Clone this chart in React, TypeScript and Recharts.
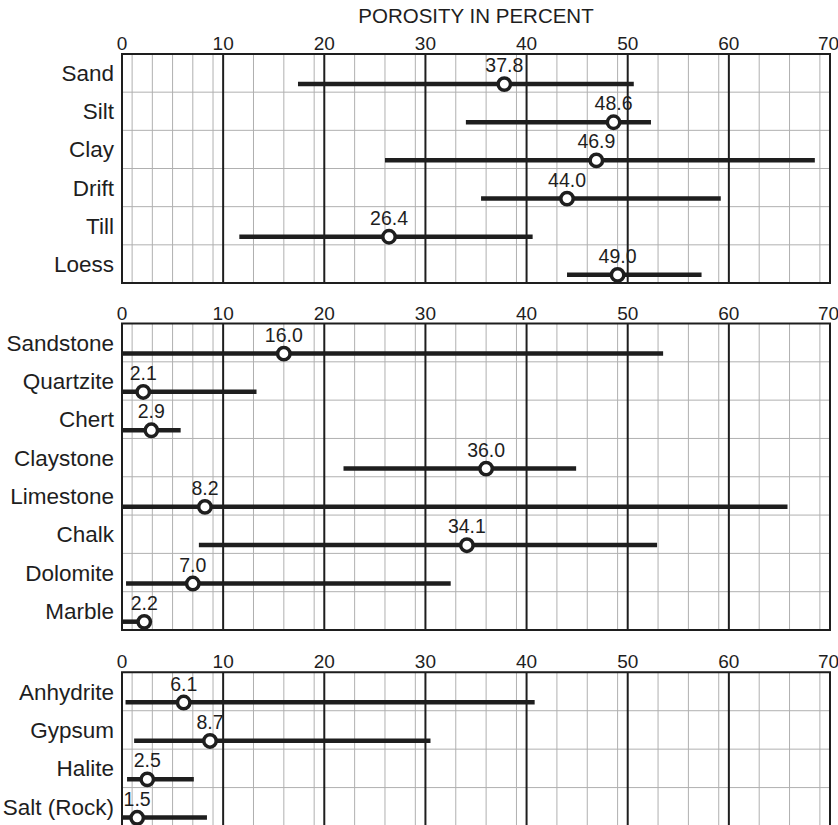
import { ComposedChart, Bar, Line, XAxis, YAxis, CartesianGrid, ReferenceArea } from 'recharts';

const xTicks = [0, 10, 20, 30, 40, 50, 60, 70];

const soilNames = ['Sand', 'Silt', 'Clay', 'Drift', 'Till', 'Loess'];
const soilMin = [17.4, 34.0, 26.0, 35.5, 11.6, 44.0];
const soilMax = [50.6, 52.3, 68.5, 59.2, 40.6, 57.3];
const soilMean = [37.8, 48.6, 46.9, 44.0, 26.4, 49.0];

const rockNames = ['Sandstone', 'Quartzite', 'Chert', 'Claystone', 'Limestone', 'Chalk', 'Dolomite', 'Marble'];
const rockMin = [0, 0, 0, 21.9, 0, 7.6, 0.4, 0];
const rockMax = [53.5, 13.3, 5.8, 44.9, 65.8, 52.9, 32.5, 2.6];
const rockMean = [16.0, 2.1, 2.9, 36.0, 8.2, 34.1, 7.0, 2.2];

const evapNames = ['Anhydrite', 'Gypsum', 'Halite', 'Salt (Rock)'];
const evapMin = [0.35, 1.2, 0.5, 0];
const evapMax = [40.8, 30.5, 7.1, 8.4];
const evapMean = [6.1, 8.7, 2.5, 1.5];

const FONT = '"Liberation Sans", Arial, sans-serif';
const INK = '#1e1e1e';
const DROP = 11; // bars sit a little below the row label

// 1-unit minor grid and the heavy 10-unit lines
const minorTicks = Array.from({ length: 69 }, (_, i) => i + 1).filter((v) => v % 10 !== 0);
const majorTicks = [10, 20, 30, 40, 50, 60];

function RangeLine(props: any) {
  const { x, y, width, height } = props;
  const cy = y + height / 2 + DROP;
  return <line x1={x} x2={x + width} y1={cy} y2={cy} stroke={INK} strokeWidth={4.5} />;
}

function MeanDot(props: any) {
  const { cx, cy, payload, index } = props;
  if (cx == null || cy == null) return null;
  const y = cy + DROP;
  return (
    <g key={`dot-${index}`}>
      <circle cx={cx} cy={y} r={6.2} fill="#fff" stroke={INK} strokeWidth={3.5} />
      <text x={cx} y={y - 12} textAnchor="middle" fontSize={19.5} fontFamily={FONT} fill={INK}>
        {payload.mean.toFixed(1)}
      </text>
    </g>
  );
}

function Panel({ names, mins, maxs, means, top, height, marginTop, marginBottom }: any) {
  const data = names.map((name: string, i: number) => ({
    name,
    range: [mins[i], maxs[i]],
    mean: means[i],
  }));
  const n = names.length;
  return (
    <div style={{ position: 'absolute', left: 0, top, width: 838, height }}>
      <ComposedChart
        width={838}
        height={height}
        data={data}
        layout="vertical"
        margin={{ top: marginTop, right: 8, bottom: marginBottom, left: 0 }}
        barCategoryGap={0}
      >
        <CartesianGrid
          vertical={false}
          stroke="#b0b0b0"
          horizontalCoordinatesGenerator={({ offset }: any) =>
            Array.from({ length: n + 1 }, (_, k) => offset.top + (k * offset.height) / n)
          }
        />
        <CartesianGrid horizontal={false} verticalValues={minorTicks} stroke="#b0b0b0" strokeWidth={1} />
        <CartesianGrid horizontal={false} verticalValues={majorTicks} stroke={INK} strokeWidth={2} />
        <XAxis
          type="number"
          orientation="top"
          domain={[0, 70]}
          ticks={xTicks}
          allowDataOverflow
          height={30}
          axisLine={false}
          tickLine={false}
          tickSize={0}
          tickMargin={4}
          tick={{ fontSize: 19, fill: INK, fontFamily: FONT }}
        />
        <YAxis
          type="category"
          dataKey="name"
          width={122}
          axisLine={false}
          tickLine={false}
          tickSize={0}
          tickMargin={8}
          interval={0}
          tick={{ fontSize: 22.5, fill: INK, fontFamily: FONT }}
        />
        <Bar dataKey="range" shape={RangeLine} isAnimationActive={false} />
        <Line dataKey="mean" stroke="none" dot={MeanDot} activeDot={false} isAnimationActive={false} />
        <ReferenceArea x1={0} x2={70} fill="none" stroke={INK} strokeWidth={2} />
      </ComposedChart>
    </div>
  );
}

export default function App() {
  return (
    <div
      style={{
        position: 'absolute',
        left: 0,
        top: 0,
        width: 838,
        height: 825,
        overflow: 'hidden',
        background: '#fff',
        fontFamily: FONT,
      }}
    >
      <div
        style={{
          position: 'absolute',
          left: 122,
          top: 4,
          width: 708,
          textAlign: 'center',
          fontSize: 20.5,
          lineHeight: '24px',
          color: INK,
        }}
      >
        POROSITY IN PERCENT
      </div>
      <Panel names={soilNames} mins={soilMin} maxs={soilMax} means={soilMean} top={0} height={290} marginTop={24} marginBottom={7} />
      <Panel names={rockNames} mins={rockMin} maxs={rockMax} means={rockMean} top={290} height={345} marginTop={3.5} marginBottom={5} />
      <Panel names={evapNames} mins={evapMin} maxs={evapMax} means={evapMean} top={640} height={187} marginTop={2.3} marginBottom={1} />
    </div>
  );
}
